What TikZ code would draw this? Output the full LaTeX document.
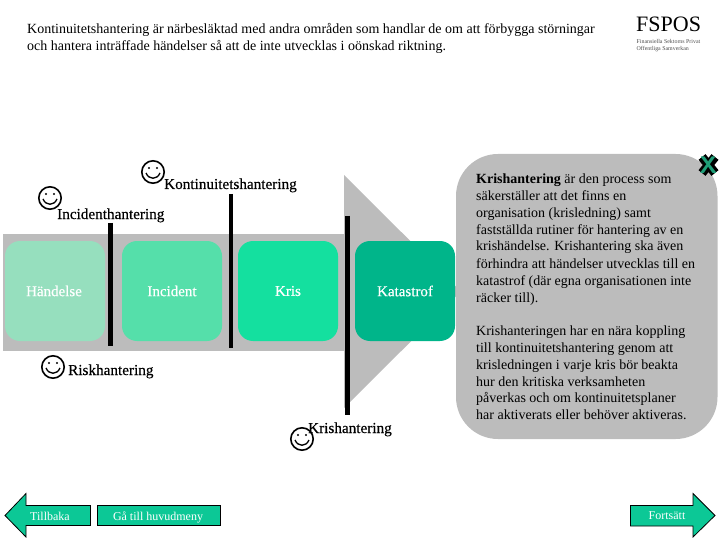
\documentclass[tikz,border=0pt]{standalone}
\usepackage{fontspec}
\setmainfont{Liberation Serif}
\newfontfamily\labfont[FakeBold=0.4]{Liberation Serif}
\usetikzlibrary{shapes.arrows}
\definecolor{barg}{HTML}{BCBCBC}
\definecolor{btn}{HTML}{0CC896}
\definecolor{stageA}{HTML}{96DFBE}
\definecolor{stageB}{HTML}{55DFAA}
\definecolor{stageC}{HTML}{14E09F}
\definecolor{stageD}{HTML}{00B58A}
\definecolor{xgreen}{HTML}{1F9E78}
\tikzset{x=1pt,y=-1pt,
 stage/.style={rounded corners=15pt,minimum width=100pt,minimum height=100pt,inner sep=0pt,text=white,font=\labfont\fontsize{15}{17}\selectfont},
 divider/.style={line width=4.5pt,black},
 smiley/.pic={\draw[line width=1.6pt,fill=none](0,0) circle (11.2pt);
   \fill (-4,-4) circle (1.2pt) (4,-4) circle (1.2pt);
   \draw[line width=1.3pt] (-7,1) .. controls (-4,8) and (4,8) .. (7,1);},
 lab/.style={inner sep=0pt,anchor=base west,font=\labfont\fontsize{15.2}{17}\selectfont},
 head/.style={inner sep=0pt,anchor=base west,font=\fontsize{14}{16}\selectfont},
 body/.style={inner sep=0pt,anchor=base west,font=\fontsize{14}{16}\selectfont},
 navtext/.style={text=white,font=\fontsize{12}{14}\selectfont,inner sep=0pt},
}
\begin{document}
\begin{tikzpicture}
\useasboundingbox (0,0) rectangle (720,540);
\node[head] (t1) at (27,34) {Kontinuitetshantering är närbesläktad med andra områden som handlar de om att förbygga störningar};
\node[head] (t2) at (27,51) {och hantera inträffade händelser så att de inte utvecklas i oönskad riktning.};
% logo
\node[inner sep=0pt,anchor=base west,font=\fontsize{22}{22}\selectfont] (logo) at (636,32) {FSPOS};
\node[inner sep=0pt,anchor=base west,text=black!70,font=\fontsize{5.9}{6}\selectfont] (logo1) at (636.5,44) {Finansiella Sektorns Privat};
\node[inner sep=0pt,anchor=base west,text=black!70,font=\fontsize{5.9}{6}\selectfont] (logo2) at (636.5,51) {Offentliga Samverkan};
% band
\fill[barg] (3,234) rectangle (344,350.5);
\fill[barg] (344,175) -- (461,291.5) -- (344,408) -- cycle;
\node[stage,fill=stageA] (a) at (55,291) {};
\node[stage,fill=stageB] (b) at (172,291) {};
\node[stage,fill=stageC] (c) at (288,291) {};
\node[stage,fill=stageD] (d) at (405,291) {};
\node[stage,minimum size=0pt] (at) at (54,291) {Händelse};
\node[stage,minimum size=0pt] (bt) at (172,291) {Incident};
\node[stage,minimum size=0pt] (ct) at (288,291) {Kris};
\node[stage,minimum size=0pt] (dt) at (405,291) {Katastrof};
\draw[divider] (110.7,223) -- (110.7,346);
\draw[divider] (231,194) -- (231,348);
\draw[divider] (347.5,216) -- (347.5,415);
% labels
\pic at (153,172) {smiley};
\pic at (50,198) {smiley};
\pic at (53,367) {smiley};
\pic at (302,439) {smiley};
\node[lab] (k) at (164,189) {Kontinuitetshantering};
\node[lab] (i) at (57,219) {Incidenthantering};
\node[lab] (r) at (68,375) {Riskhantering};
\node[lab] (h) at (308,433) {Krishantering};
% panel
\fill[barg,rounded corners=42pt] (456,154) rectangle (717.5,439);
\node[body] (p1) at (476,184) {\textbf{Krishantering} är den process som};
\node[body] (p2) at (476,201) {säkerställer att det finns en};
\node[body] (p3) at (476,218) {organisation (krisledning) samt};
\node[body] (p4) at (476,234.5) {fastställda rutiner för hantering av en};
\node[body] (p5) at (476,251) {krishändelse. Krishantering ska även};
\node[body] (p6) at (476,268) {förhindra att händelser utvecklas till en};
\node[body] (p7) at (476,285) {katastrof (där egna organisationen inte};
\node[body] (p8) at (476,302) {räcker till).};
\node[body] (q1) at (476,335) {Krishanteringen har en nära koppling};
\node[body] (q2) at (476,352) {till kontinuitetshantering genom att};
\node[body] (q3) at (476,369) {krisledningen i varje kris bör beakta};
\node[body] (q4) at (476,386) {hur den kritiska verksamheten};
\node[body] (q5) at (476,402.5) {påverkas och om kontinuitetsplaner};
\node[body] (q6) at (476,419) {har aktiverats eller behöver aktiveras.};
% close X
\draw[line width=9pt,black] (702,157) -- (715,173) (715,157) -- (702,173);
\node[inner sep=0pt,font=\sffamily\bfseries\fontsize{24}{24}\selectfont,text=xgreen] (x) at (708.5,165) {X};
% nav
\draw[fill=btn,line width=.8pt] (90.5,505.5) -- (26,505.5) -- (26,493.5) -- (5,515.5) -- (26,537) -- (26,525.5) -- (90.5,525.5) -- cycle;
\node[navtext] (back) at (50,516) {Tillbaka};
\node[draw=black,fill=btn,line width=.8pt,minimum width=123pt,minimum height=20pt,inner sep=0pt] (menu) at (159,515.5) {};
\node[navtext,anchor=base] (menut) at (158,520) {Gå till huvudmeny};
\draw[fill=btn,line width=.8pt] (630.5,505.5) -- (693,505.5) -- (693,493.5) -- (715,515.5) -- (693,537) -- (693,526) -- (630.5,526) -- cycle;
\node[navtext] (fwd) at (667,516) {Fortsätt};
\end{tikzpicture}
\end{document}
